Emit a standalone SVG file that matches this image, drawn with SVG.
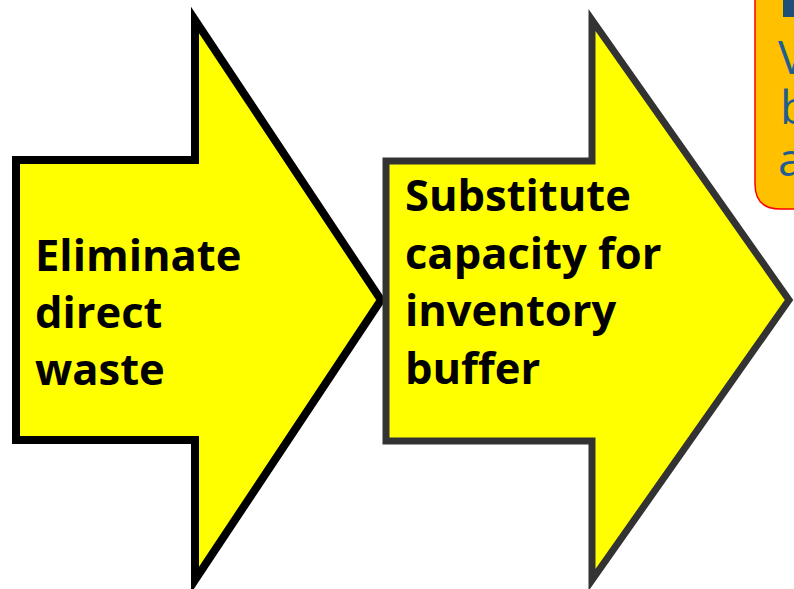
<svg xmlns="http://www.w3.org/2000/svg" width="794" height="589" viewBox="0 0 794 589">
<style>
.lbl{font-family:"Open Sans","Liberation Sans",sans-serif;font-weight:700;font-size:43.5px;fill:#000}
.note{font-family:"Open Sans","Liberation Sans",sans-serif;font-size:46px;fill:#1F5E8E}
</style>
<rect width="794" height="589" fill="#fff"/>
<g id="note">
<path d="M755,-30 L755,184 Q755,209 780,209 L800,209 L800,-30 Z" fill="#FFC000" stroke="#FF0000" stroke-width="1.5"/>
<rect x="783" y="0" width="12" height="17" fill="#1F4E79"/>
<text class="note" x="778" y="74">V</text>
<text class="note" x="780" y="124">b</text>
<text class="note" x="778" y="176">a</text>
</g>
<g id="arrow1">
<polygon points="16,160 195,160 195,20 381,300 195,580 195,440 16,440" fill="#FFFF00" stroke="#000" stroke-width="8"/>
<text class="lbl" x="35" y="271">Eliminate</text>
<text class="lbl" x="35" y="328">direct</text>
<text class="lbl" x="35" y="385">waste</text>
</g>
<g id="arrow2">
<polygon points="386,161 592,161 592,20 789,300 592,580 592,441 386,441" fill="#FFFF00" stroke="#333" stroke-width="7"/>
<text class="lbl" x="405" y="211">Substitute</text>
<text class="lbl" x="405" y="269">capacity for</text>
<text class="lbl" x="405" y="326">inventory</text>
<text class="lbl" x="405" y="384">buffer</text>
</g>
<g id="connectors"/>
</svg>
